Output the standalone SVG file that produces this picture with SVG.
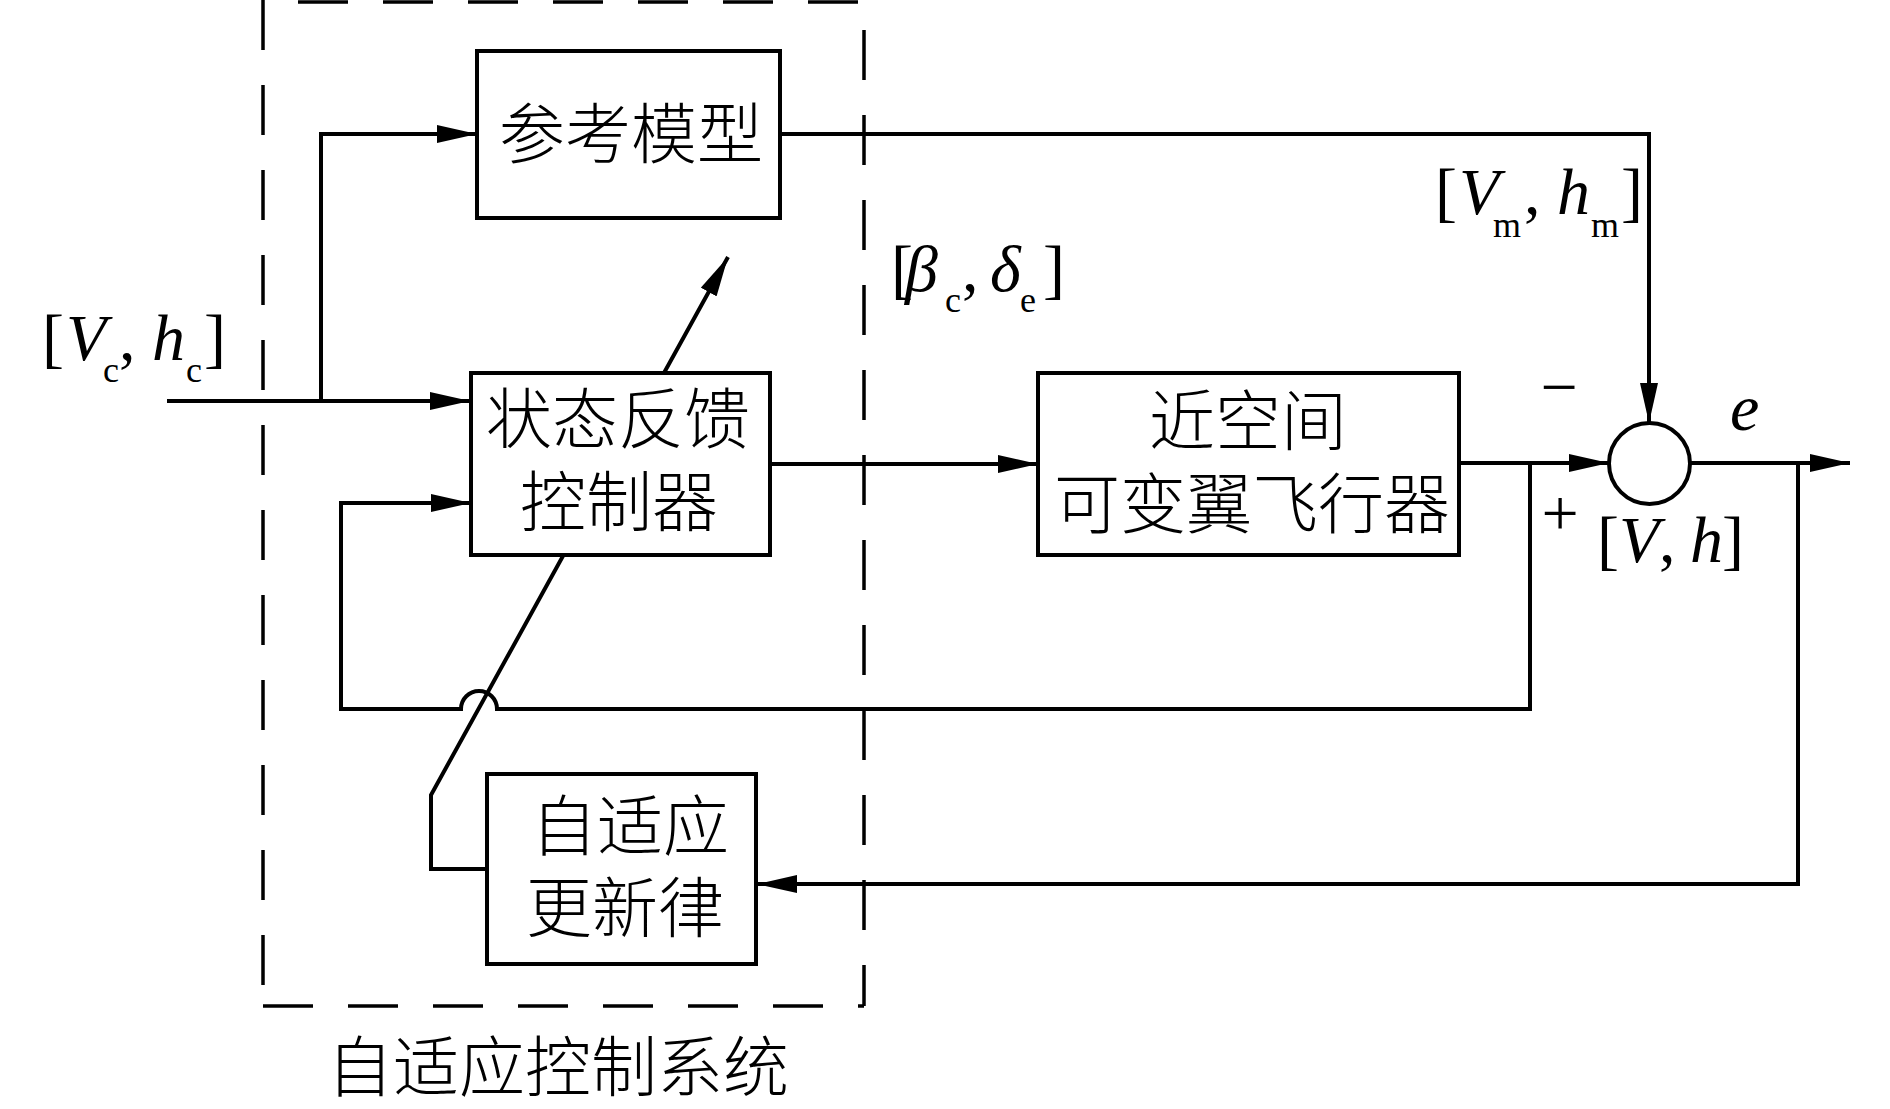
<svg xmlns="http://www.w3.org/2000/svg" width="1890" height="1109" viewBox="0 0 1890 1109">
<style>
.ln{fill:none;stroke:#000;stroke-width:4}
.box{fill:#fff;stroke:#000;stroke-width:4}
.dash{fill:none;stroke:#000;stroke-width:3.5;stroke-dasharray:50 35}
.cjk{font-family:"Noto Sans CJK SC","Noto Sans CJK JP",sans-serif;font-size:66px;font-weight:300;fill:#000;text-anchor:middle}
.m{font-family:"Liberation Serif","Times New Roman",serif;font-size:66px;fill:#000}
.i{font-style:italic}
.s{font-size:36px;font-style:normal}
</style>
<defs>
<marker id="ah" markerUnits="userSpaceOnUse" markerWidth="40" markerHeight="18" refX="40" refY="9" orient="auto">
<path d="M0,0 L40,9 L0,18 z" fill="#000"/>
</marker>
</defs>
<rect width="1890" height="1109" fill="#fff"/>
<g id="adaptive-system-boundary">
<line class="dash" x1="263" y1="0" x2="263" y2="1006"/>
<line class="dash" x1="263" y1="2" x2="864" y2="2" style="stroke-dashoffset:50"/>
<line class="dash" x1="864" y1="2" x2="864" y2="1006" style="stroke-dashoffset:57"/>
<line class="dash" x1="263" y1="1006" x2="864" y2="1006"/>
</g>
<g id="connectors">
<path class="ln" d="M167,401 H470" marker-end="url(#ah)"/>
<path class="ln" d="M321,401 V134 H477" marker-end="url(#ah)"/>
<path class="ln" d="M780,134 H1649 V423" marker-end="url(#ah)"/>
<path class="ln" d="M770,464 H1038" marker-end="url(#ah)"/>
<path class="ln" d="M1459,463 H1609" marker-end="url(#ah)"/>
<path class="ln" d="M1530,463 V709 H497 A18,18 0 0 0 461,709 H341 V503 H471" marker-end="url(#ah)"/>
<path class="ln" d="M1690,463 H1850" marker-end="url(#ah)"/>
<path class="ln" d="M1798,463 V884 H757" marker-end="url(#ah)"/>
<path class="ln" d="M487,869 H431 V795 L728,257" marker-end="url(#ah)"/>
</g>
<g id="reference-model">
<rect class="box" x="477" y="51" width="303" height="167"/>
<text class="cjk" x="631" y="158">参考模型</text>
</g>
<g id="state-feedback-controller">
<rect class="box" x="471" y="373" width="299" height="182"/>
<text class="cjk" x="618" y="443">状态反馈</text>
<text class="cjk" x="619" y="526">控制器</text>
</g>
<g id="aircraft">
<rect class="box" x="1038" y="373" width="421" height="182"/>
<text class="cjk" x="1248" y="445">近空间</text>
<text class="cjk" x="1252" y="528">可变翼飞行器</text>
</g>
<g id="adaptive-law">
<rect class="box" x="487" y="774" width="269" height="190"/>
<text class="cjk" x="630" y="850">自适应</text>
<text class="cjk" x="625" y="932">更新律</text>
</g>
<g id="sum-junction">
<circle cx="1649.5" cy="463.5" r="40.5" fill="#fff" stroke="#000" stroke-width="4"/>
</g>
<g id="labels">
<text class="cjk" x="558" y="1091">自适应控制系统</text>
<text class="m"><tspan x="42" y="360">[</tspan><tspan class="i" x="66" y="360">V</tspan><tspan class="s" x="103" y="382">c</tspan><tspan x="119" y="360">,</tspan><tspan class="i" x="152" y="360">h</tspan><tspan class="s" x="186" y="382">c</tspan><tspan x="204" y="360">]</tspan></text>
<text class="m"><tspan x="891" y="291">[</tspan><tspan class="i" x="905" y="291">β</tspan><tspan class="s" x="945" y="312">c</tspan><tspan x="962" y="291">,</tspan><tspan class="i" x="990" y="291">δ</tspan><tspan class="s" x="1020" y="312">e</tspan><tspan x="1043" y="291">]</tspan></text>
<text class="m"><tspan x="1435" y="214">[</tspan><tspan class="i" x="1459" y="214">V</tspan><tspan class="s" x="1493" y="237">m</tspan><tspan x="1524" y="214">,</tspan><tspan class="i" x="1557" y="214">h</tspan><tspan class="s" x="1591" y="237">m</tspan><tspan x="1621" y="214">]</tspan></text>
<text class="m"><tspan x="1597" y="562">[</tspan><tspan class="i" x="1619" y="562">V</tspan><tspan x="1659" y="562">,</tspan><tspan class="i" x="1690" y="562">h</tspan><tspan x="1722" y="562">]</tspan></text>
<text class="m i" x="1730" y="430">e</text>
<text class="m" x="1559" y="409" font-size="52" text-anchor="middle">−</text>
<text class="m" x="1560" y="535" font-size="62" text-anchor="middle">+</text>
</g>
</svg>
